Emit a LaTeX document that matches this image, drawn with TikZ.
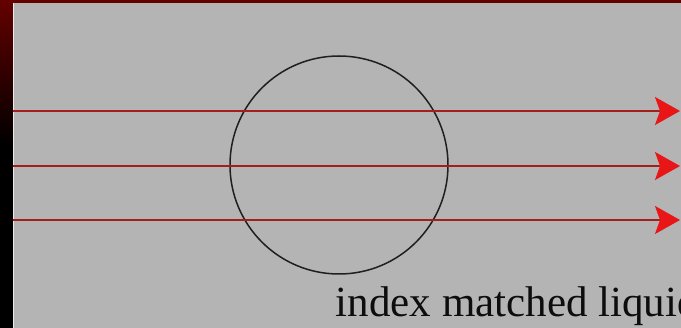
\documentclass[tikz,border=0pt]{standalone}
\usepackage{fontspec}
\setmainfont{Liberation Serif}
\usetikzlibrary{arrows.meta}
\definecolor{panelgray}{RGB}{180,180,180}
\definecolor{raycol}{RGB}{165,30,30}
\definecolor{tipcol}{RGB}{232,22,22}
\definecolor{darkred}{RGB}{100,0,0}
\begin{document}
\begin{tikzpicture}[x=1pt,y=-1pt,line width=1.5pt,
    ray/.style={raycol,line width=1.6pt,-{Stealth[length=25pt,width=28pt,inset=5pt,fill=tipcol,color=tipcol]}}]
  \useasboundingbox (0,0) rectangle (681,328);
  % backdrop
  \fill[black] (0,0) rectangle (681,328);
  \fill[darkred] (0,0) rectangle (681,3);
  \shade[top color=darkred,bottom color=black] (0,0) rectangle (13,145);
  \fill[panelgray] (13,3) rectangle (681,328);
  \draw[white!85!gray,line width=0.8pt] (13.5,3) -- (13.5,328);
  % sphere
  \node[draw=black!88,circle,line width=1.5pt,minimum size=218pt,inner sep=0pt] (sphere) at (339,165) {};
  % rays
  \foreach \y/\n in {111/a,166/b,220/c}{
    \coordinate (in\n) at (13,\y);
    \coordinate (out\n) at (680,\y);
    \draw[ray] (in\n) -- (out\n);
  }
  \node[anchor=base west,inner sep=0pt,text=black!95,font=\fontsize{43}{47}\selectfont] (liquid) at (335,317) {index matched liquid};
\end{tikzpicture}
\end{document}
